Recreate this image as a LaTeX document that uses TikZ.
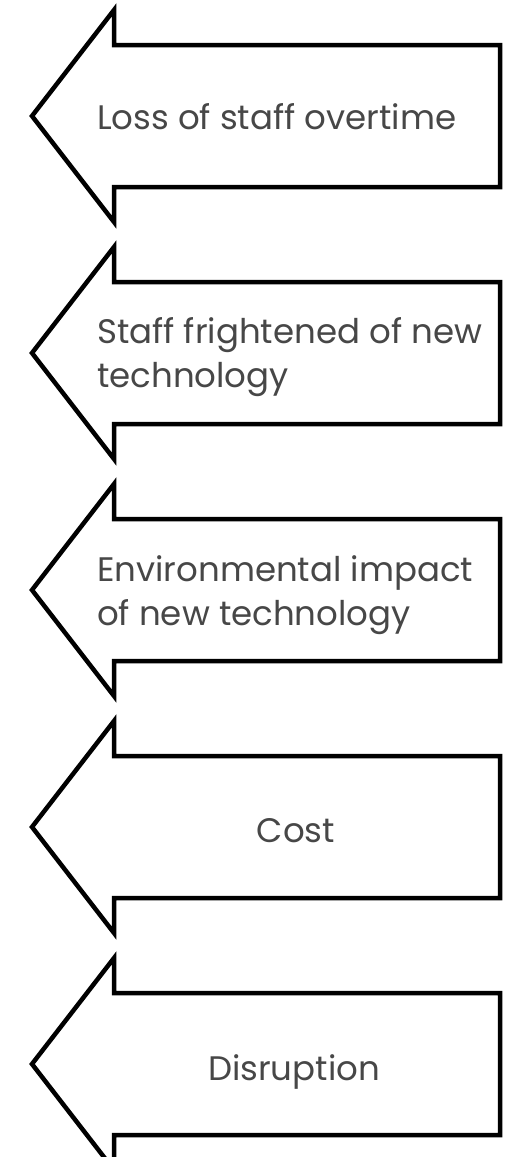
\documentclass[tikz,border=0pt]{standalone}
\usepackage{fontspec}
\setmainfont{Poppins}
\begin{document}
\begin{tikzpicture}[x=1pt,y=-1pt,
  arrowshape/.style={draw=black,line width=4.5pt,fill=white,line join=miter},
  lbl/.style={inner sep=0pt,text=black!72,font=\fontsize{34}{44}\selectfont,align=left,anchor=base west},
  clbl/.style={inner sep=0pt,text=black!72,font=\fontsize{34}{44}\selectfont,align=center,anchor=base}]
\useasboundingbox (0,0) rectangle (512,1157);
\foreach \c in {116,353,590,827,1064}{
  \draw[arrowshape] (32,\c) -- (114,\c-106) -- (114,\c-71) -- (500,\c-71) -- (500,\c+71) -- (114,\c+71) -- (114,\c+106) -- cycle;
}
\node[lbl] (t1) at (97,129) {Loss of staff overtime};
\node[lbl] (t2) at (97,387) {Staff frightened of new\\technology};
\node[lbl] (t3) at (97,625) {Environmental impact\\of new technology};
\node[clbl] (t4) at (296,842) {Cost};
\node[clbl] (t5) at (294,1080) {Disruption};
\end{tikzpicture}
\end{document}
